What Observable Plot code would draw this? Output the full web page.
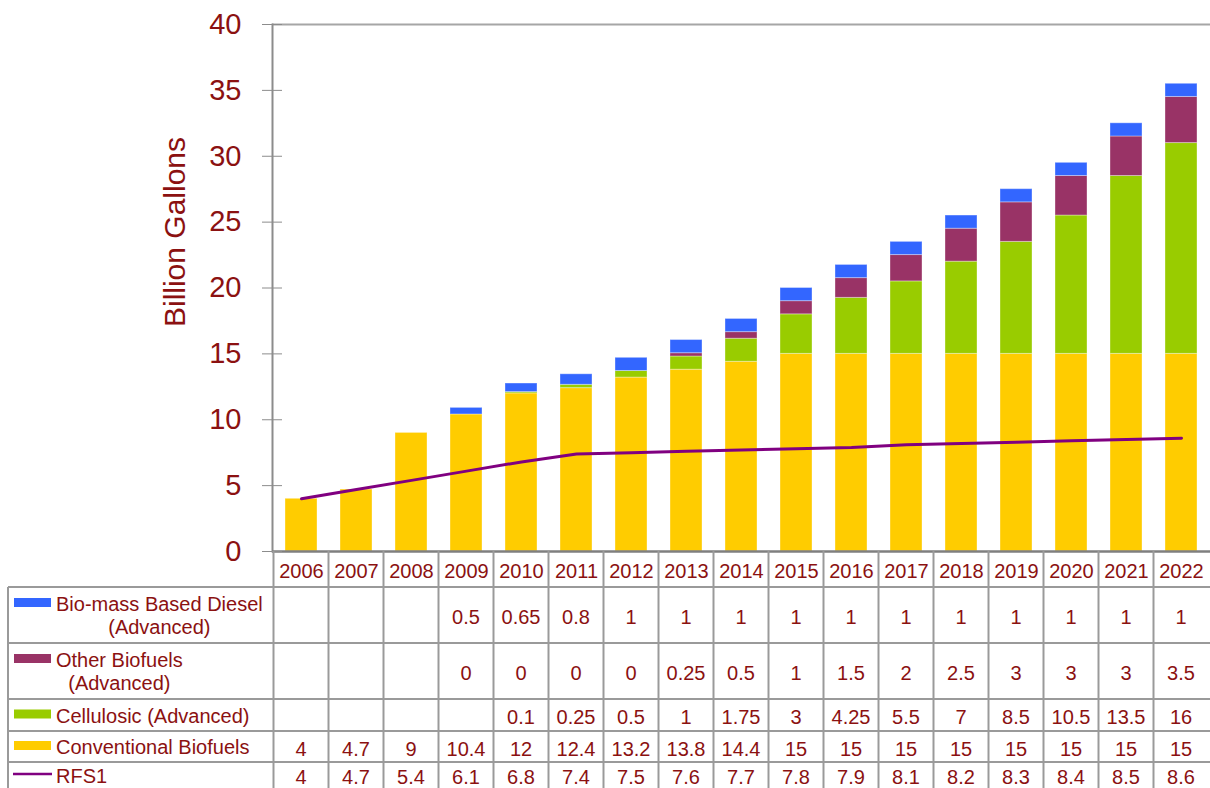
<!DOCTYPE html>
<html>
<head>
<meta charset="utf-8">
<script src="https://cdn.jsdelivr.net/npm/d3@7"></script>
<script src="https://cdn.jsdelivr.net/npm/@observablehq/plot@0.6"></script>
<style>
  html, body { margin: 0; padding: 0; background: #ffffff; }
  #chart { width: 1210px; height: 788px; overflow: hidden; }
</style>
</head>
<body>
<div id="chart"></div>
<script>
// ---- data ----
const years = ["2006","2007","2008","2009","2010","2011","2012","2013","2014","2015","2016","2017","2018","2019","2020","2021","2022"];
const diesel       = [null, null, null, 0.5, 0.65, 0.8, 1, 1, 1, 1, 1, 1, 1, 1, 1, 1, 1];
const otherBio     = [null, null, null, 0, 0, 0, 0, 0.25, 0.5, 1, 1.5, 2, 2.5, 3, 3, 3, 3.5];
const cellulosic   = [null, null, null, null, 0.1, 0.25, 0.5, 1, 1.75, 3, 4.25, 5.5, 7, 8.5, 10.5, 13.5, 16];
const conventional = [4, 4.7, 9, 10.4, 12, 12.4, 13.2, 13.8, 14.4, 15, 15, 15, 15, 15, 15, 15, 15];
const rfs1         = [4, 4.7, 5.4, 6.1, 6.8, 7.4, 7.5, 7.6, 7.7, 7.8, 7.9, 8.1, 8.2, 8.3, 8.4, 8.5, 8.6];
const yTicks = [0, 5, 10, 15, 20, 25, 30, 35, 40];
const yTitle = "Billion Gallons";

// stack order: bottom to top
const stackNames  = ["Conventional Biofuels", "Cellulosic (Advanced)", "Other Biofuels (Advanced)", "Bio-mass Based Diesel (Advanced)"];
const stackValues = [conventional, cellulosic, otherBio, diesel];
const stackColors = ["#ffcc00", "#99cc00", "#993366", "#3366ff"];
const lineColor = "#800080";

// table rows (top to bottom)
const tableLabels = [["Bio-mass Based Diesel", "(Advanced)"], ["Other Biofuels", "(Advanced)"], ["Cellulosic (Advanced)"], ["Conventional Biofuels"], ["RFS1"]];
const tableValues = [diesel, otherBio, cellulosic, conventional, rfs1];
const tableKeys = ["bar", "bar", "bar", "bar", "line"];
const tableColors = ["#3366ff", "#993366", "#99cc00", "#ffcc00", "#800080"];

// ---- build ----
const textColor = "#8b1111";
const font = "'Liberation Sans', Arial, sans-serif";

const barData = [];
stackNames.forEach((name, i) => {
  years.forEach((yr, j) => {
    const v = stackValues[i][j];
    if (v != null) barData.push({year: yr, series: name, value: v});
  });
});
const lineData = years.map((yr, j) => ({year: yr, value: rfs1[j]}));

const W = 1210, H = 788;
const plotTop = 24, plotBottom = 551, plotLeft = 272;

const chart = Plot.plot({
  width: W, height: H,
  marginTop: plotTop, marginLeft: plotLeft, marginRight: 0, marginBottom: H - plotBottom,
  style: {fontFamily: font, background: "#ffffff", overflow: "visible"},
  x: {type: "band", domain: years, paddingInner: 0.42, paddingOuter: 0.21, label: null, axis: null},
  y: {domain: [0, 40], label: null, axis: null},
  color: {domain: stackNames, range: stackColors},
  marks: [
    Plot.ruleY([40], {stroke: "#a6a6a6", strokeWidth: 2}),
    Plot.barY(barData, {x: "year", y: "value", fill: "series", stroke: "#ffffff", strokeOpacity: 0.35, strokeWidth: 1}),
    Plot.lineY(lineData, {x: "year", y: "value", stroke: lineColor, strokeWidth: 3}),
    Plot.frame({anchor: "left", stroke: "#8c8c8c", strokeWidth: 2}),
    Plot.ruleY([0], {stroke: "#7f7f7f", strokeWidth: 2.5}),
    Plot.axisY({ticks: yTicks, tickSize: 20, dx: 10, tickPadding: 21, fontSize: 29, stroke: "#8c8c8c", fill: textColor, label: null}),
    Plot.axisX({tickSize: 0, tickPadding: 12, fontSize: 20, fill: textColor, label: null}),
    Plot.text([yTitle], {text: d => d, frameAnchor: "left", rotate: -90, dx: -88, dy: -56, fontSize: 30, fill: textColor, textAnchor: "middle", lineAnchor: "bottom"})
  ]
});
document.getElementById("chart").appendChild(chart);

// ---- data table below the chart, aligned with Plot's x scale ----
const xs = chart.scale("x");
const step = xs.step;
const centerOf = yr => xs.apply(yr) + xs.bandwidth / 2;
const rowEdges = [587, 643, 699, 731, 762, 788];
const tableLeft = 8;
const gridColor = "#9a9a9a";

const svg = d3.select(chart);
const g = svg.append("g").attr("font-family", font).attr("fill", textColor).attr("text-anchor", "start");

// horizontal rules
rowEdges.slice(0, 5).forEach(y => {
  g.append("line").attr("x1", tableLeft).attr("x2", W).attr("y1", y).attr("y2", y)
    .attr("stroke", gridColor).attr("stroke-width", 2);
});
// left border of table
g.append("line").attr("x1", tableLeft).attr("x2", tableLeft).attr("y1", rowEdges[0]).attr("y2", H)
  .attr("stroke", gridColor).attr("stroke-width", 2);
// column boundaries (header + body)
years.forEach(yr => {
  const xl = centerOf(yr) - step / 2;
  g.append("line").attr("x1", xl).attr("x2", xl).attr("y1", plotBottom).attr("y2", H)
    .attr("stroke", gridColor).attr("stroke-width", 2);
});

// cells
tableValues.forEach((vals, r) => {
  const cy = (rowEdges[r] + rowEdges[r + 1]) / 2 + 2;
  vals.forEach((v, j) => {
    if (v == null) return;
    g.append("text").attr("x", centerOf(years[j])).attr("y", cy + 7)
      .attr("text-anchor", "middle").attr("font-size", 20).text(String(v));
  });
  // row label
  const lines = tableLabels[r];
  const rc = (rowEdges[r] + rowEdges[r + 1]) / 2;
  const first = lines.length > 1 ? rc - 4 : rc + 7.5;
  const t1 = g.append("text").attr("x", 56).attr("y", first).attr("text-anchor", "start")
    .attr("font-size", 20).text(lines[0]);
  if (lines.length > 1) {
    const w = t1.node().getComputedTextLength();
    g.append("text").attr("x", 56 + w / 2).attr("y", first + 23).attr("text-anchor", "middle")
      .attr("font-size", 20).text(lines[1]);
  }
  // swatch
  const sc = first - 8.5;
  if (tableKeys[r] === "bar") {
    g.append("rect").attr("x", 14).attr("y", sc - 4.5).attr("width", 37).attr("height", 9)
      .attr("fill", tableColors[r]);
  } else {
    g.append("line").attr("x1", 13).attr("x2", 52).attr("y1", sc).attr("y2", sc)
      .attr("stroke", tableColors[r]).attr("stroke-width", 2.5);
  }
});
</script>
</body>
</html>
